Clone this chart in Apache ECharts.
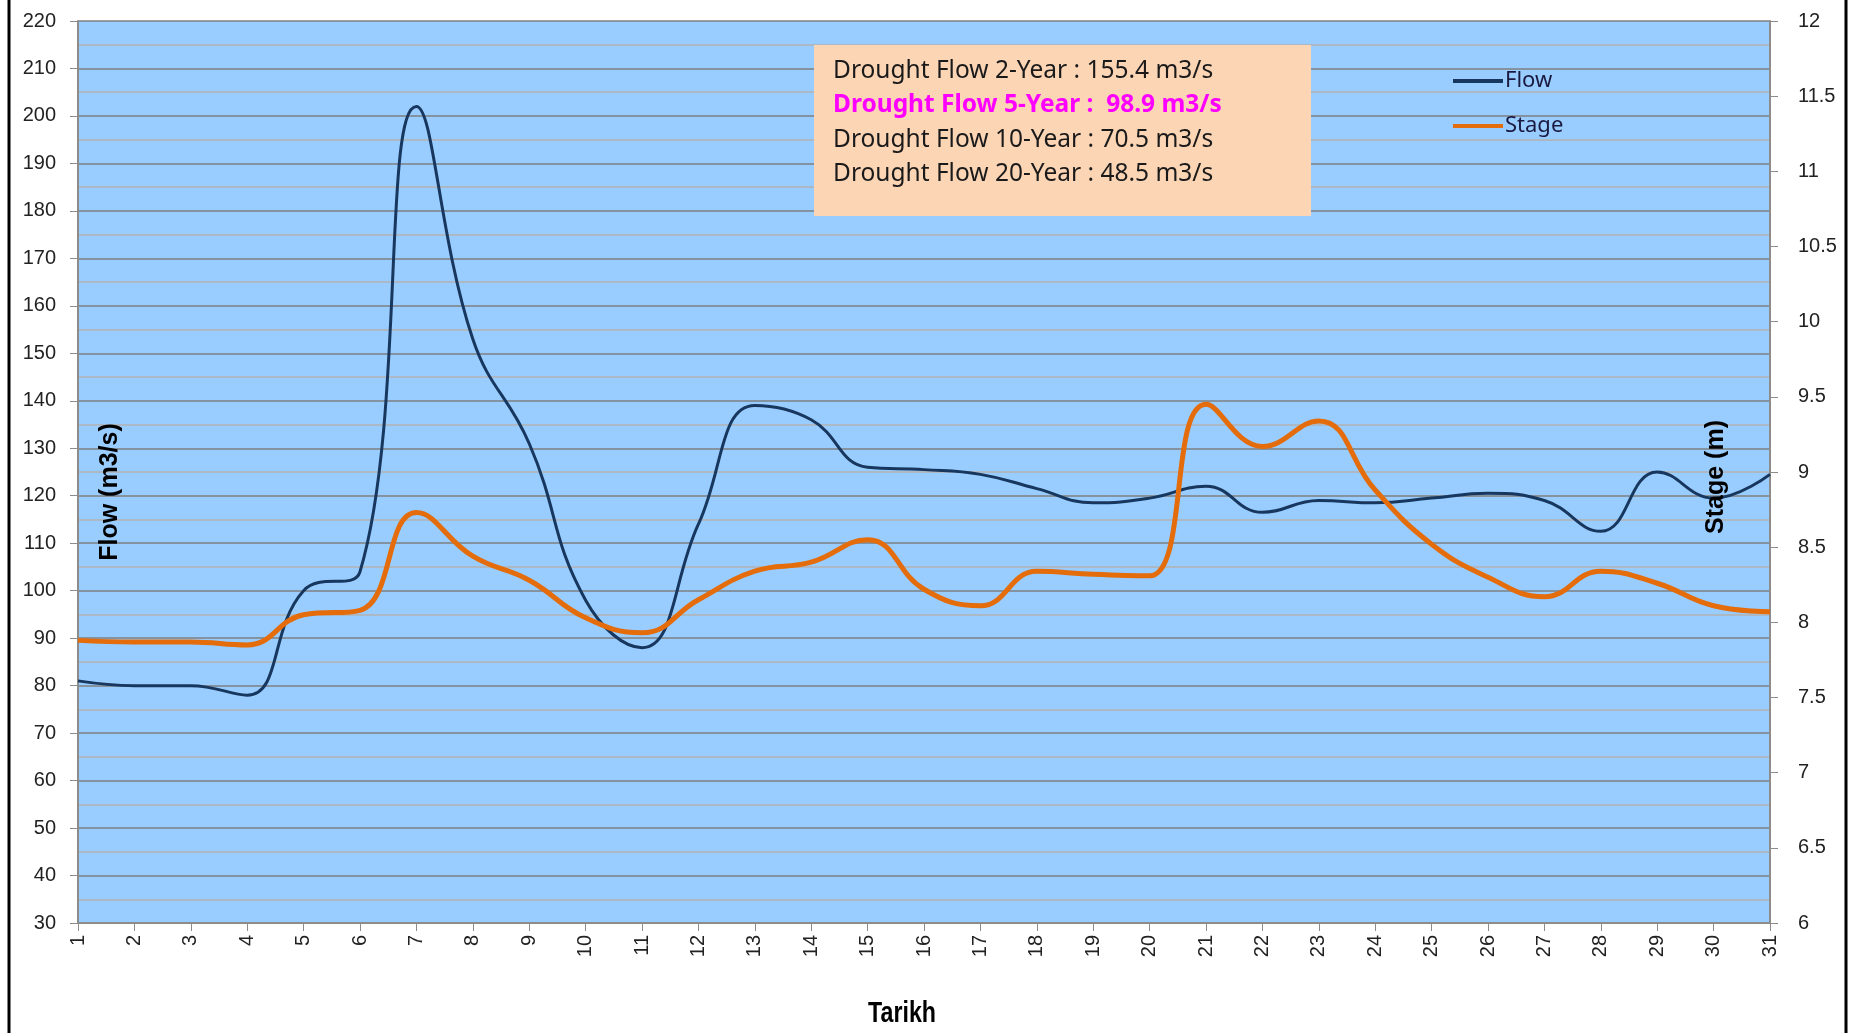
<!DOCTYPE html>
<html>
<head>
<meta charset="utf-8">
<script src="https://cdn.jsdelivr.net/npm/echarts@6/dist/echarts.min.js"></script>
<style>
  html, body { margin: 0; padding: 0; background: #fff; }
  #chart { width: 1858px; height: 1033px; }
</style>
</head>
<body>
<div id="chart"></div>
<script>
// days of the month
var days = [];
for (var d = 1; d <= 31; d++) days.push(String(d));

// flow (m3/s)
var flow = [81, 80, 80, 78, 100, 104, 202, 153, 131, 98, 88, 114, 139, 136, 126, 125.5,
  124.5, 121.5, 118.5, 119.5, 122, 116.5, 119, 118.5, 119.5, 120.5, 119, 112.5, 125, 119.5, 124.5];

// stage (m)
var stage = [7.88, 7.87, 7.87, 7.85, 8.05, 8.08, 8.73, 8.44, 8.28, 8.03, 7.93, 8.15, 8.34, 8.4,
  8.55, 8.22, 8.11, 8.34, 8.32, 8.31, 9.45, 9.17, 9.34, 8.88, 8.52, 8.3, 8.17, 8.34, 8.26, 8.11, 8.07];

var droughtLines = [
  'Drought Flow 2-Year : 155.4 m3/s',
  'Drought Flow 5-Year :  98.9 m3/s',
  'Drought Flow 10-Year : 70.5 m3/s',
  'Drought Flow 20-Year : 48.5 m3/s'
];

var myChart = echarts.init(document.getElementById('chart'));

var boxText = droughtLines.map(function (t, i) {
  return {
    type: 'text',
    x: 833, y: 71 + i * 34.5,
    style: {
      text: t, fill: i == 1 ? '#FF00FF' : '#1a1a1a',
      font: (i == 1 ? 'bold ' : '') + '24.5px "Noto Sans"',
      verticalAlign: 'middle'
    },
    z: 101
  };
});

myChart.setOption({
  animation: false,
  backgroundColor: '#ffffff',
  grid: {
    left: 78, right: 88, top: 21, bottom: 110,
    show: true, backgroundColor: '#99CCFF', borderWidth: 0
  },
  legend: {
    data: [{ name: 'Flow', icon: 'rect' }, { name: 'Stage', icon: 'rect' }],
    orient: 'vertical',
    left: 1448, top: 65,
    itemWidth: 50, itemHeight: 4, itemGap: 23,
    textStyle: { fontSize: 22, color: '#1a1a40', fontFamily: '"Noto Sans"', padding: [0, 0, 0, -3] }
  },
  xAxis: {
    type: 'category',
    data: days,
    boundaryGap: false,
    axisLine: { lineStyle: { color: '#8c8c8c', width: 2 } },
    axisTick: { show: true, length: 8, lineStyle: { color: '#8c8c8c' } },
    axisLabel: { rotate: 90, margin: 12, fontSize: 20, color: '#222', fontFamily: '"Liberation Sans"' },
    splitLine: { show: false }
  },
  yAxis: [
    {
      type: 'value', min: 30, max: 220, interval: 10,
      axisLine: { show: true, lineStyle: { color: '#8c8c8c', width: 2 } },
      axisTick: { show: true, length: 8, lineStyle: { color: '#8c8c8c' } },
      axisLabel: { margin: 22, fontSize: 20, color: '#222', fontFamily: '"Liberation Sans"' },
      splitLine: { lineStyle: { color: '#7f7f7f', width: 1.5 } },
      minorTick: { show: false, splitNumber: 2 },
      minorSplitLine: { show: true, lineStyle: { color: '#b3b3b3', width: 1.5 } }
    },
    {
      type: 'value', min: 6, max: 12, interval: 0.5, position: 'right',
      axisLine: { show: true, lineStyle: { color: '#8c8c8c', width: 2 } },
      axisTick: { show: true, length: 8, lineStyle: { color: '#8c8c8c' } },
      axisLabel: {
        margin: 28, align: 'left', fontSize: 20, color: '#222', fontFamily: '"Liberation Sans"',
        formatter: '{v|{value}}',
        rich: { v: { width: 44, align: 'left', fontSize: 20, color: '#222', fontFamily: '"Liberation Sans"' } }
      },
      splitLine: { show: false }
    }
  ],
  series: [
    {
      name: 'Flow', type: 'line', data: flow, yAxisIndex: 0,
      smooth: 0.45, symbol: 'none',
      lineStyle: { color: '#17375E', width: 3 },
      itemStyle: { color: '#17375E' }
    },
    {
      name: 'Stage', type: 'line', data: stage, yAxisIndex: 1,
      smooth: 0.45, symbol: 'none',
      lineStyle: { color: '#E46C0A', width: 5 },
      itemStyle: { color: '#E46C0A' }
    }
  ],
  graphic: [
    { type: 'rect', shape: { x: 814, y: 45, width: 497, height: 171 },
      style: { fill: '#FCD5B5' }, z: 100 }
  ].concat(boxText).concat([
    { type: 'text', x: 110, y: 492, rotation: Math.PI / 2,
      style: { text: 'Flow (m3/s)', font: 'bold 25px "Liberation Sans"', fill: '#000',
        align: 'center', verticalAlign: 'middle' }, z: 100 },
    { type: 'text', x: 1716, y: 477, rotation: Math.PI / 2,
      style: { text: 'Stage (m)', font: 'bold 25px "Liberation Sans"', fill: '#000',
        align: 'center', verticalAlign: 'middle' }, z: 100 },
    { type: 'text', x: 902, y: 1014, scaleX: 0.8,
      style: { text: 'Tarikh', font: 'bold 29px "Liberation Sans"', fill: '#000',
        align: 'center', verticalAlign: 'middle' }, z: 100 },
    { type: 'line', shape: { x1: 9, y1: 0, x2: 9, y2: 1033 },
      style: { stroke: '#000', lineWidth: 3 } },
    { type: 'line', shape: { x1: 1846, y1: 0, x2: 1846, y2: 1033 },
      style: { stroke: '#000', lineWidth: 3 } }
  ])
});
</script>
</body>
</html>
